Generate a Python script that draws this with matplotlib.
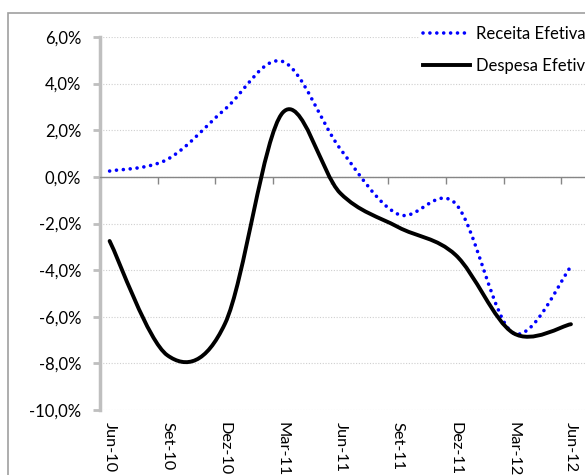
import numpy as np
import matplotlib
matplotlib.use('Agg')
import matplotlib.pyplot as plt
from matplotlib.path import Path
from matplotlib.patches import PathPatch, Rectangle
from matplotlib.lines import Line2D

# quarterly values (% )
quarters = ["Jun-10", "Set-10", "Dez-10", "Mar-11", "Jun-11",
            "Set-11", "Dez-11", "Mar-12", "Jun-12"]
receita = [0.25, 0.75, 2.9, 4.95, 1.2, -1.6, -1.15, -6.7, -3.85]
despesa = [-2.75, -7.65, -6.3, 2.75, -0.7, -2.15, -3.35, -6.7, -6.32]
y_ticks = [-10, -8, -6, -4, -2, 0, 2, 4, 6]
y_labels = ["-10,0%", "-8,0%", "-6,0%", "-4,0%", "-2,0%",
            "0,0%", "2,0%", "4,0%", "6,0%"]
series_names = ["Receita Efetiva", "Despesa Efetiva"]

plt.rcParams['font.family'] = ['Lato', 'DejaVu Sans']
FS = 12


def smooth_path(xs, ys):
    # Excel-like smoothed line: cubic bezier segments through the points
    pts = np.column_stack([xs, ys]).astype(float)
    n = len(pts)
    verts = [pts[0]]
    codes = [Path.MOVETO]
    for i in range(n - 1):
        p0 = pts[max(i - 1, 0)]
        p1 = pts[i]
        p2 = pts[i + 1]
        p3 = pts[min(i + 2, n - 1)]
        verts += [p1 + (p2 - p0) / 6, p2 - (p3 - p1) / 6, p2]
        codes += [Path.CURVE4] * 3
    return Path(verts, codes)


fig = plt.figure(figsize=(5.85, 4.75), dpi=100)
ax = fig.add_axes([100 / 585, 65 / 475, 519 / 585, 373 / 475])

x = np.arange(len(quarters))
blue_style = dict(color="#0000FF", lw=2.6, linestyle=(0, (0.01, 1.9)))
ax.add_patch(PathPatch(smooth_path(x, receita), fill=False, edgecolor="#0000FF",
                       lw=2.6, linestyle=(0, (0.01, 1.9)), capstyle="round", zorder=3))
ax.add_patch(PathPatch(smooth_path(x, despesa), fill=False, edgecolor="black",
                       lw=2.8, capstyle="round", joinstyle="round", zorder=4))

ax.set_xlim(-1 / 6, 8 + 5 / 6)
ax.set_ylim(-10, 6)

ax.set_yticks(y_ticks, y_labels)
ax.set_xticks(x, quarters)
ax.set_xticks(np.arange(10) - 1 / 6, minor=True)

ax.tick_params(axis="x", which="major", bottom=True, top=False, length=0,
               pad=9, labelsize=11.8, labelrotation=270)
ax.tick_params(axis="x", which="minor", bottom=False, top=True, direction="in",
               length=5, width=1, color="#868686")
ax.tick_params(axis="y", direction="out", length=5, width=2, color="#bfbfbf",
               pad=8.5, labelsize=FS)

for s in ["right", "bottom"]:
    ax.spines[s].set_visible(False)
ax.spines["top"].set_position(("data", 0))
ax.spines["top"].set_color("#868686")
ax.spines["top"].set_linewidth(1.0)
ax.spines["top"].set_zorder(2.5)
ax.spines["left"].set_color("#bfbfbf")
ax.spines["left"].set_linewidth(2.5)

ax.yaxis.grid(True, color="#cfcfcf", linestyle=(0, (1, 1.5)), lw=0.8)
ax.set_axisbelow(True)

handles = [Line2D([], [], dash_capstyle="round", **blue_style),
           Line2D([], [], color="black", lw=2.8)]
fig.legend(handles, series_names, loc="upper left",
           bbox_to_anchor=(420 / 585, 1 - 23 / 475), frameon=True,
           facecolor="white", edgecolor="none", framealpha=1, fancybox=False,
           borderpad=0.2, borderaxespad=0, handlelength=2.8, handletextpad=0.35,
           labelspacing=0.95, fontsize=FS)

# chart area border
fig.add_artist(Rectangle((8 / 585, -0.05), 1.0, 1.05 - 13 / 475,
                         transform=fig.transFigure, fill=False,
                         edgecolor="#a0a0a0", lw=1.2))

fig.savefig("out.png", dpi=100)
